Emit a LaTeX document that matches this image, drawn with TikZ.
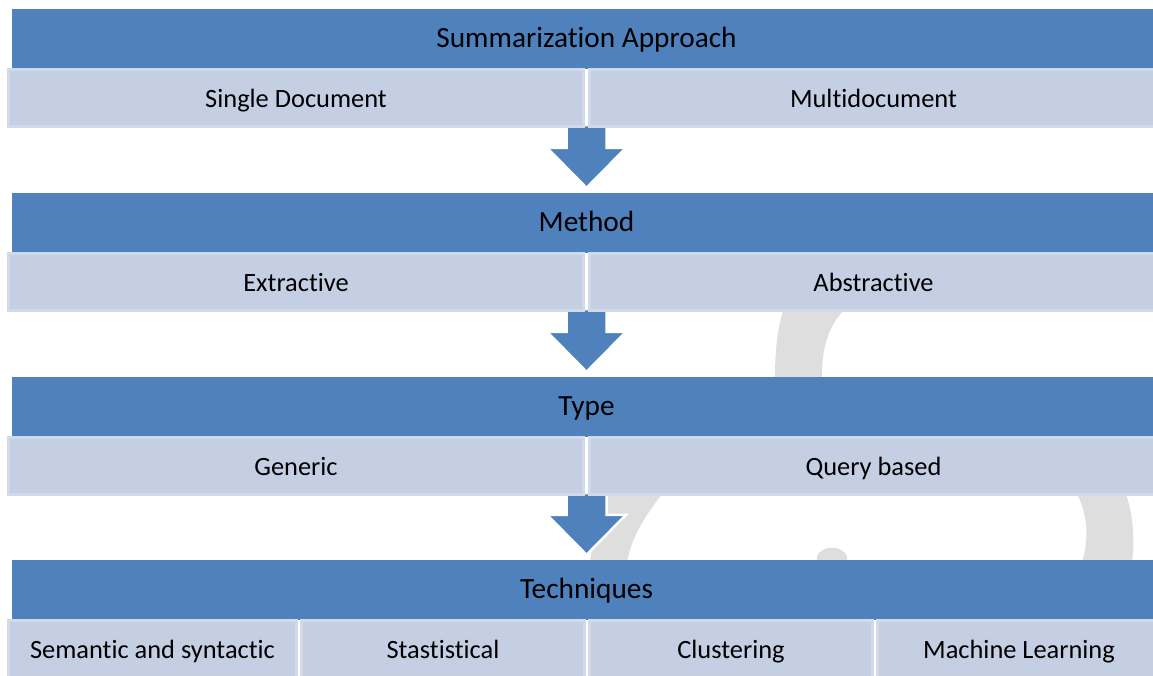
\documentclass[tikz,border=0pt]{standalone}
\usepackage{fontspec}
\setmainfont{Carlito}[Ligatures=NoCommon]
\usetikzlibrary{calc,backgrounds}
\definecolor{headblue}{RGB}{79,129,189}
\definecolor{subfill}{RGB}{196,207,227}
\definecolor{subline}{RGB}{210,218,234}
\definecolor{wmark}{RGB}{222,222,222}
\begin{document}
\begin{tikzpicture}[x=1pt,y=-1pt,
  head/.style={rectangle, fill=headblue, inner sep=0pt, minimum width=1149pt, minimum height=60pt,
    text height=19.8pt, text depth=3pt,
    font=\fontsize{29.3}{35}\selectfont, text=black},
  subbox/.style={rectangle, fill=subfill, draw=subline, line width=3pt, inner sep=0pt, minimum height=57pt,
    text height=20pt, text depth=2pt,
    font=\fontsize{26.4}{32}\selectfont, text=black},
  bigarrow/.style={fill=headblue, draw=white, line width=2.5pt, line join=miter},
  wm/.style={fill=wmark, draw=none}]
\useasboundingbox (0,0) rectangle (1153,675);
\clip (0,0) rectangle (1153,675);

% row 1
\node[head] (h1) at (586.5,39) {Summarization Approach};
\node[subbox, minimum width=575pt] (s1a) at (296,98) {Single Document};
\node[subbox, minimum width=600pt] (s1b) at (889.5,98) {\hspace*{-32pt}Multidocument};
% row 2
\node[head] (h2) at (586.5,223) {Method};
\node[subbox, minimum width=575pt] (s2a) at (296,282) {Extractive};
\node[subbox, minimum width=600pt] (s2b) at (889.5,282) {\hspace*{-32pt}Abstractive};
% row 3
\node[head] (h3) at (586.5,407) {Type};
\node[subbox, minimum width=575pt] (s3a) at (296,466) {Generic};
\node[subbox, minimum width=600pt] (s3b) at (889.5,466) {\hspace*{-32pt}Query based};
% row 4
\node[head] (h4) at (586.5,590) {Techniques};
\node[subbox, minimum width=288pt] (s4a) at (152.5,649) {Semantic and syntactic};
\node[subbox, minimum width=283pt] (s4b) at (443,649) {Stastistical};
\node[subbox, minimum width=283pt] (s4c) at (731,649) {Clustering};
\node[subbox, minimum width=310pt] (s4d) at (1032.5,649) {\hspace*{-27pt}Machine Learning};

\begin{scope}[on background layer]
  % watermark pieces visible in the gaps
  \fill[wm] (784,308) .. controls (777,330) and (775,350) .. (775,380) -- (822,380)
     .. controls (821,350) and (828,325) .. (846,308) -- cycle;
  \fill[wm] (600,494) -- (662,494) .. controls (646,515) and (632,535) .. (627,562) -- (590,562) -- cycle;
  \fill[wm] (817,562) -- (817,556) .. controls (822,545) and (842,545) .. (847,556) -- (847,562) -- cycle;
  \fill[wm] (1077,494) .. controls (1088,515) and (1089,540) .. (1082,562) -- (1132,562)
     .. controls (1135,540) and (1133,515) .. (1126,494) -- cycle;

  % arrows
  \coordinate (t1) at (s1a.south -| h2.north);
  \coordinate (p1) at ([yshift=5pt]h2.north);
  \draw[bigarrow] ($(t1)+(-20,-3)$) -- ($(p1)+(-20,-40)$) -- ($(p1)+(-39.5,-40)$) -- (p1)
     -- ($(p1)+(39.5,-40)$) -- ($(p1)+(20,-40)$) -- ($(t1)+(20,-3)$) -- cycle;
  \coordinate (t2) at (s2a.south -| h3.north);
  \coordinate (p2) at ([yshift=5pt]h3.north);
  \draw[bigarrow] ($(t2)+(-20,-3)$) -- ($(p2)+(-20,-40)$) -- ($(p2)+(-39.5,-40)$) -- (p2)
     -- ($(p2)+(39.5,-40)$) -- ($(p2)+(20,-40)$) -- ($(t2)+(20,-3)$) -- cycle;
  \coordinate (t3) at (s3a.south -| h4.north);
  \coordinate (p3) at ([yshift=5pt]h4.north);
  \draw[bigarrow] ($(t3)+(-20,-3)$) -- ($(p3)+(-20,-40)$) -- ($(p3)+(-39.5,-40)$) -- (p3)
     -- ($(p3)+(39.5,-40)$) -- ($(p3)+(20,-40)$) -- ($(t3)+(20,-3)$) -- cycle;
\end{scope}
\end{tikzpicture}
\end{document}
